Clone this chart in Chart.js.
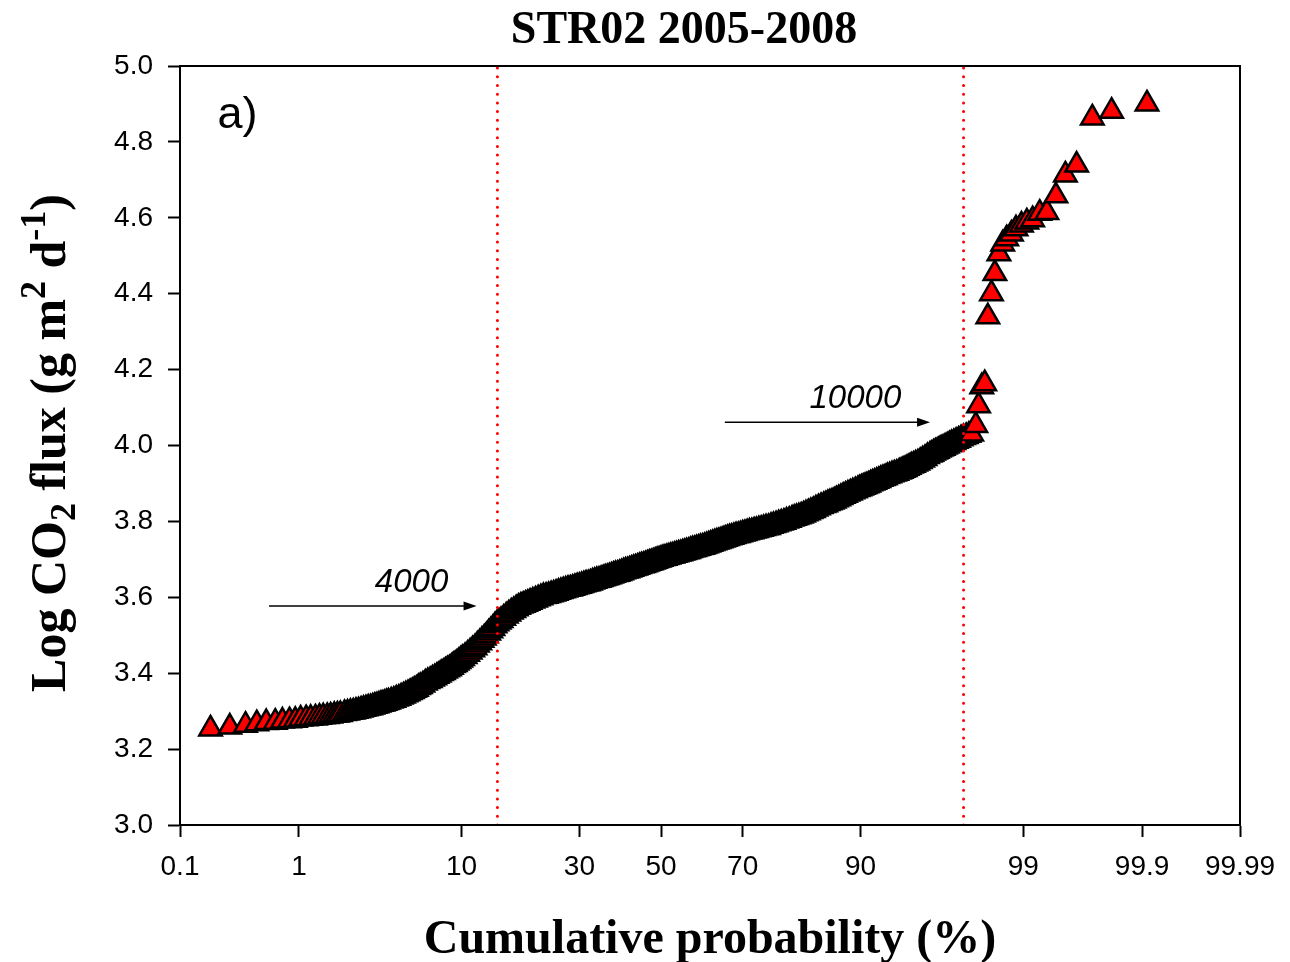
<!DOCTYPE html>
<html>
<head>
<meta charset="utf-8">
<title>STR02 2005-2008</title>
<script src="https://cdn.jsdelivr.net/npm/chart.js@4.4.1/dist/chart.umd.min.js"></script>
<style>
  html, body { margin: 0; padding: 0; background: #fff; }
  #wrap { width: 1290px; height: 962px; }
</style>
</head>
<body>
<div id="wrap"><canvas id="probChart" width="1290" height="962"></canvas></div>
<script>
"use strict";

// cumulative probability (%) of the plotted measurements
const cumProb = [
  0.19, 0.28, 0.38, 0.47, 0.56, 0.66, 0.75, 0.85, 0.94, 1.03,
  1.13, 1.22, 1.32, 1.41, 1.50, 1.60, 1.69, 1.79, 1.88, 1.97,
  2.1, 2.2, 2.3, 2.4, 2.5, 2.6, 2.7, 2.8, 2.9, 3.0,
  3.1, 3.2, 3.3, 3.4, 3.5, 3.6, 3.7, 3.8, 3.9, 4.0,
  4.15, 4.3, 4.45, 4.6, 4.75, 4.9, 5.05, 5.2, 5.35, 5.5, 5.65, 5.8, 5.95, 6.1,
  6.3, 6.5, 6.7, 6.9, 7.1, 7.3, 7.5, 7.7, 7.9, 8.1,
  8.3, 8.5, 8.7, 8.9, 9.1, 9.3, 9.5, 9.7, 9.9, 10.1,
  10.4, 10.7, 11.0, 11.3, 11.6, 11.9, 12.2, 12.5, 12.8, 13.1, 13.4, 13.7, 14.0, 14.3, 14.6, 14.9, 15.2,
  15.6, 16.0, 16.4, 16.8, 17.2, 17.6, 18.0, 18.4, 18.8, 19.2, 19.6, 20.0,
  20.5, 21, 21.5, 22, 22.5, 23, 23.5, 24, 24.5, 25, 25.5, 26, 26.5, 27, 27.5, 28, 28.5, 29, 29.5,
  30, 30.5, 31, 31.5, 32, 32.5, 33, 33.5, 34, 34.5, 35, 35.5, 36, 36.5, 37, 37.5, 38, 38.5, 39, 39.5,
  40, 40.5, 41, 41.5, 42, 42.5, 43, 43.5, 44, 44.5, 45, 45.5, 46, 46.5, 47, 47.5, 48, 48.5, 49, 49.5,
  50, 50.5, 51, 51.5, 52, 52.5, 53, 53.5, 54, 54.5, 55, 55.5, 56, 56.5, 57, 57.5, 58, 58.5, 59, 59.5,
  60, 60.5, 61, 61.5, 62, 62.5, 63, 63.5, 64, 64.5, 65, 65.5, 66, 66.5, 67, 67.5, 68, 68.5, 69, 69.5,
  70, 70.5, 71, 71.5, 72, 72.5, 73, 73.5, 74, 74.5, 75, 75.5, 76, 76.5, 77, 77.5, 78, 78.5, 79, 79.5,
  80.0, 80.4, 80.8, 81.2, 81.6, 82.0, 82.4, 82.8, 83.2, 83.6, 84.0, 84.4, 84.8, 85.2,
  85.5, 85.8, 86.1, 86.4, 86.7, 87.0, 87.3, 87.6, 87.9, 88.2, 88.5, 88.8, 89.1, 89.4, 89.7,
  89.9, 90.1, 90.3, 90.5, 90.7, 90.9, 91.1, 91.3, 91.5, 91.7,
  91.9, 92.1, 92.3, 92.5, 92.7, 92.9, 93.1, 93.3, 93.5, 93.7,
  93.85, 94.0, 94.15, 94.3, 94.45, 94.6, 94.75, 94.9, 95.05, 95.2, 95.35, 95.5, 95.65, 95.8,
  95.9, 96.0, 96.1, 96.2, 96.3, 96.4, 96.5, 96.6, 96.7, 96.8,
  96.9, 97.0, 97.1, 97.2, 97.3, 97.4, 97.5, 97.6, 97.7,
  97.84, 97.93, 98.03, 98.12, 98.21, 98.31, 98.40, 98.50, 98.59, 98.68, 98.78, 98.87,
  98.97, 99.06, 99.15, 99.25, 99.34, 99.44, 99.53, 99.62, 99.72, 99.81, 99.91
];

// log10 CO2 flux (g m-2 d-1), same order as cumProb
const logFlux = [
  3.253, 3.258, 3.263, 3.267, 3.270, 3.271, 3.274, 3.275, 3.276, 3.279,
  3.280, 3.281, 3.282, 3.284, 3.285, 3.286, 3.287, 3.289, 3.290, 3.291,
  3.294, 3.295, 3.297, 3.298, 3.300, 3.301, 3.303, 3.305, 3.306, 3.308,
  3.309, 3.311, 3.313, 3.314, 3.316, 3.318, 3.319, 3.321, 3.323, 3.324,
  3.327, 3.329, 3.332, 3.334, 3.337, 3.340, 3.343, 3.346, 3.349, 3.352, 3.355, 3.358, 3.362, 3.365,
  3.369, 3.374, 3.378, 3.381, 3.385, 3.388, 3.392, 3.395, 3.399, 3.402,
  3.406, 3.409, 3.412, 3.416, 3.420, 3.423, 3.427, 3.431, 3.435, 3.439,
  3.444, 3.450, 3.456, 3.462, 3.467, 3.474, 3.480, 3.487, 3.493, 3.499, 3.506, 3.512, 3.518, 3.525, 3.530, 3.535, 3.539,
  3.545, 3.551, 3.556, 3.561, 3.565, 3.570, 3.574, 3.577, 3.579, 3.582, 3.584, 3.587,
  3.590, 3.593, 3.596, 3.599, 3.602, 3.603, 3.605, 3.607, 3.609, 3.611, 3.613, 3.615, 3.617, 3.619, 3.621, 3.622, 3.624, 3.626, 3.628,
  3.629, 3.631, 3.633, 3.635, 3.636, 3.638, 3.640, 3.642, 3.644, 3.645, 3.647, 3.649, 3.651, 3.652, 3.654, 3.656, 3.658, 3.660, 3.661, 3.663,
  3.665, 3.667, 3.669, 3.670, 3.672, 3.674, 3.676, 3.677, 3.679, 3.681, 3.683, 3.684, 3.686, 3.688, 3.690, 3.691, 3.693, 3.695, 3.697, 3.698,
  3.700, 3.702, 3.703, 3.705, 3.706, 3.708, 3.709, 3.711, 3.712, 3.714, 3.715, 3.717, 3.718, 3.720, 3.721, 3.723, 3.725, 3.726, 3.728, 3.729,
  3.731, 3.732, 3.734, 3.736, 3.738, 3.740, 3.742, 3.744, 3.746, 3.747, 3.749, 3.751, 3.753, 3.755, 3.757, 3.758, 3.760, 3.762, 3.763, 3.765,
  3.767, 3.768, 3.770, 3.772, 3.773, 3.775, 3.776, 3.778, 3.779, 3.781, 3.783, 3.784, 3.787, 3.789, 3.791, 3.794, 3.796, 3.798, 3.801, 3.803,
  3.806, 3.808, 3.810, 3.812, 3.814, 3.817, 3.820, 3.823, 3.826, 3.829, 3.833, 3.836, 3.839, 3.842,
  3.844, 3.847, 3.849, 3.851, 3.854, 3.857, 3.860, 3.863, 3.866, 3.869, 3.872, 3.875, 3.878, 3.881, 3.884,
  3.886, 3.888, 3.890, 3.892, 3.894, 3.896, 3.899, 3.901, 3.903, 3.906,
  3.908, 3.911, 3.913, 3.915, 3.918, 3.920, 3.923, 3.925, 3.927, 3.930,
  3.932, 3.935, 3.937, 3.940, 3.943, 3.946, 3.948, 3.951, 3.954, 3.958, 3.962, 3.966, 3.971, 3.975,
  3.977, 3.980, 3.983, 3.985, 3.988, 3.991, 3.993, 3.996, 3.999, 4.002,
  4.005, 4.008, 4.011, 4.014, 4.018, 4.021, 4.024, 4.027, 4.030,
  4.053, 4.105, 4.155, 4.163, 4.339, 4.400, 4.453, 4.505, 4.531, 4.545, 4.557, 4.571,
  4.581, 4.589, 4.595, 4.612, 4.614, 4.658, 4.713, 4.739, 4.863, 4.881, 4.900
];

// axis ticks
const probTicks = [0.1, 1, 10, 30, 50, 70, 90, 99, 99.9, 99.99];
const probTickLabels = ['0.1', '1', '10', '30', '50', '70', '90', '99', '99.9', '99.99'];
const fluxTicks = [3.0, 3.2, 3.4, 3.6, 3.8, 4.0, 4.2, 4.4, 4.6, 4.8, 5.0];

// population breaks (dotted lines), cumulative probability %
const breakProbs = [14.66, 97.4];

// arrow notes: flux thresholds in g m-2 d-1
const arrowLabels = ['4000', '10000'];
const arrowStart = [0.59, 65.9];
const arrowEnd = [11.8, 95.8];
const arrowLevel = [3.577, 4.061];
const arrowTextProb = [5.45, 89.4];
const arrowTextLevel = [3.637, 4.122];

// inverse of the standard normal CDF (Acklam's approximation)
function probit(p) {
  const a = [-3.969683028665376e+01, 2.209460984245205e+02, -2.759285104469687e+02,
    1.383577518672690e+02, -3.066479806614716e+01, 2.506628277459239e+00];
  const b = [-5.447609879822406e+01, 1.615858368580409e+02, -1.556989798598866e+02,
    6.680131188771972e+01, -1.328068155288572e+01];
  const c = [-7.784894002430293e-03, -3.223964580411365e-01, -2.400758277161838e+00,
    -2.549732539343734e+00, 4.374664141464968e+00, 2.938163982698783e+00];
  const d = [7.784695709041462e-03, 3.224671290700398e-01, 2.445134137142996e+00,
    3.754408661907416e+00];
  const pLow = 0.02425;
  let q, r;
  if (p < pLow) {
    q = Math.sqrt(-2 * Math.log(p));
    return (((((c[0] * q + c[1]) * q + c[2]) * q + c[3]) * q + c[4]) * q + c[5]) /
      ((((d[0] * q + d[1]) * q + d[2]) * q + d[3]) * q + 1);
  }
  if (p > 1 - pLow) {
    q = Math.sqrt(-2 * Math.log(1 - p));
    return -(((((c[0] * q + c[1]) * q + c[2]) * q + c[3]) * q + c[4]) * q + c[5]) /
      ((((d[0] * q + d[1]) * q + d[2]) * q + d[3]) * q + 1);
  }
  q = p - 0.5;
  r = q * q;
  return (((((a[0] * r + a[1]) * r + a[2]) * r + a[3]) * r + a[4]) * r + a[5]) * q /
    (((((b[0] * r + b[1]) * r + b[2]) * r + b[3]) * r + b[4]) * r + 1);
}

// percent -> position on the probability axis
const zOf = pct => probit(pct / 100);

const sansFont = 'Arial, "Liberation Sans", sans-serif';
const serifFont = '"Times New Roman", "Liberation Serif", serif';

// scatter points
const points = cumProb.map((p, i) => ({ x: zOf(p), y: logFlux[i] }));

// dotted vertical lines
const breakSets = breakProbs.map(p => ({
  type: 'line',
  data: [{ x: zOf(p), y: fluxTicks[0] }, { x: zOf(p), y: fluxTicks[fluxTicks.length - 1] }],
  borderColor: '#ff0000',
  borderWidth: 3,
  borderDash: [0, 8.7],
  borderCapStyle: 'round',
  pointRadius: 0,
  order: 0
}));

// y axis title with sub- and superscripts
function drawYTitle(ctx, baseX, midY) {
  const big = 'bold 50px ' + serifFont;
  const small = 'bold 36px ' + serifFont;
  const parts = [
    ['Log CO', big, 0], ['2', small, 10], [' flux (g m', big, 0],
    ['2', small, -20], [' d', big, 0], ['-1', small, -20], [')', big, 0]
  ];
  ctx.save();
  ctx.translate(baseX, midY);
  ctx.rotate(-Math.PI / 2);
  ctx.textBaseline = 'alphabetic';
  ctx.textAlign = 'left';
  let total = 0;
  parts.forEach(pt => { ctx.font = pt[1]; total += ctx.measureText(pt[0]).width; });
  let pos = -total / 2;
  parts.forEach(pt => {
    ctx.font = pt[1];
    ctx.fillText(pt[0], pos, pt[2]);
    pos += ctx.measureText(pt[0]).width;
  });
  ctx.restore();
}

const extras = {
  id: 'extras',
  afterDatasetsDraw(chart) {
    const { ctx, chartArea, scales: { x, y } } = chart;
    ctx.save();
    ctx.fillStyle = '#000';
    ctx.strokeStyle = '#000';

    // frame around the plot
    ctx.lineWidth = 2;
    ctx.strokeRect(chartArea.left, chartArea.top,
      chartArea.right - chartArea.left, chartArea.bottom - chartArea.top);

    // arrows with their flux labels
    arrowLabels.forEach((label, i) => {
      const yy = y.getPixelForValue(arrowLevel[i]);
      const x0 = x.getPixelForValue(zOf(arrowStart[i]));
      const x1 = x.getPixelForValue(zOf(arrowEnd[i]));
      ctx.lineWidth = 1.5;
      ctx.beginPath();
      ctx.moveTo(x0, yy);
      ctx.lineTo(x1 - 10, yy);
      ctx.stroke();
      ctx.beginPath();
      ctx.moveTo(x1, yy);
      ctx.lineTo(x1 - 13, yy - 4.5);
      ctx.lineTo(x1 - 13, yy + 4.5);
      ctx.closePath();
      ctx.fill();
      ctx.font = 'italic 33px ' + sansFont;
      ctx.textAlign = 'center';
      ctx.textBaseline = 'middle';
      ctx.fillText(label, x.getPixelForValue(zOf(arrowTextProb[i])), y.getPixelForValue(arrowTextLevel[i]));
    });

    // panel letter
    ctx.font = '45px ' + sansFont;
    ctx.textAlign = 'center';
    ctx.textBaseline = 'alphabetic';
    ctx.fillText('a)', x.getPixelForValue(zOf(0.325)), y.getPixelForValue(4.837));
    ctx.restore();
  },
  afterDraw(chart) {
    const { ctx } = chart;
    ctx.save();
    ctx.fillStyle = '#000';
    ctx.textAlign = 'center';
    ctx.textBaseline = 'alphabetic';
    ctx.font = 'bold 46px ' + serifFont;
    ctx.fillText('STR02 2005-2008', 684, 43);
    ctx.font = 'bold 48px ' + serifFont;
    ctx.fillText('Cumulative probability (%)', 710, 953);
    drawYTitle(ctx, 65, 443);
    ctx.restore();
  }
};

new Chart(document.getElementById('probChart'), {
  type: 'scatter',
  data: {
    datasets: [
      ...breakSets,
      {
        label: 'STR02',
        data: points,
        pointStyle: 'triangle',
        pointRadius: 13,
        pointHoverRadius: 13,
        backgroundColor: '#ff0000',
        borderColor: '#000000',
        borderWidth: 2.5,
        order: 1
      }
    ]
  },
  options: {
    responsive: false,
    animation: false,
    devicePixelRatio: 1,
    layout: { padding: { top: 66, right: 50, bottom: 0, left: 0 } },
    plugins: {
      legend: { display: false },
      tooltip: { enabled: false },
      title: { display: false }
    },
    scales: {
      x: {
        type: 'linear',
        min: zOf(probTicks[0]),
        max: zOf(probTicks[probTicks.length - 1]),
        afterBuildTicks: scale => { scale.ticks = probTicks.map(p => ({ value: zOf(p) })); },
        afterFit: scale => { scale.height = 137; },
        ticks: {
          autoSkip: false,
          maxRotation: 0,
          padding: 13,
          color: '#000',
          font: { family: sansFont, size: 28 },
          callback: (value, index) => probTickLabels[index]
        },
        grid: { drawOnChartArea: false, tickLength: 12, tickWidth: 2, color: '#000' },
        border: { color: '#000', width: 2 }
      },
      y: {
        type: 'linear',
        min: fluxTicks[0],
        max: fluxTicks[fluxTicks.length - 1],
        afterBuildTicks: scale => { scale.ticks = fluxTicks.map(v => ({ value: v })); },
        afterFit: scale => { scale.width = 180; },
        ticks: {
          padding: 15,
          color: '#000',
          font: { family: sansFont, size: 28 },
          callback: value => value.toFixed(1)
        },
        grid: { drawOnChartArea: false, tickLength: 12, tickWidth: 2, color: '#000' },
        border: { color: '#000', width: 2 }
      }
    }
  },
  plugins: [extras]
});
</script>
</body>
</html>
